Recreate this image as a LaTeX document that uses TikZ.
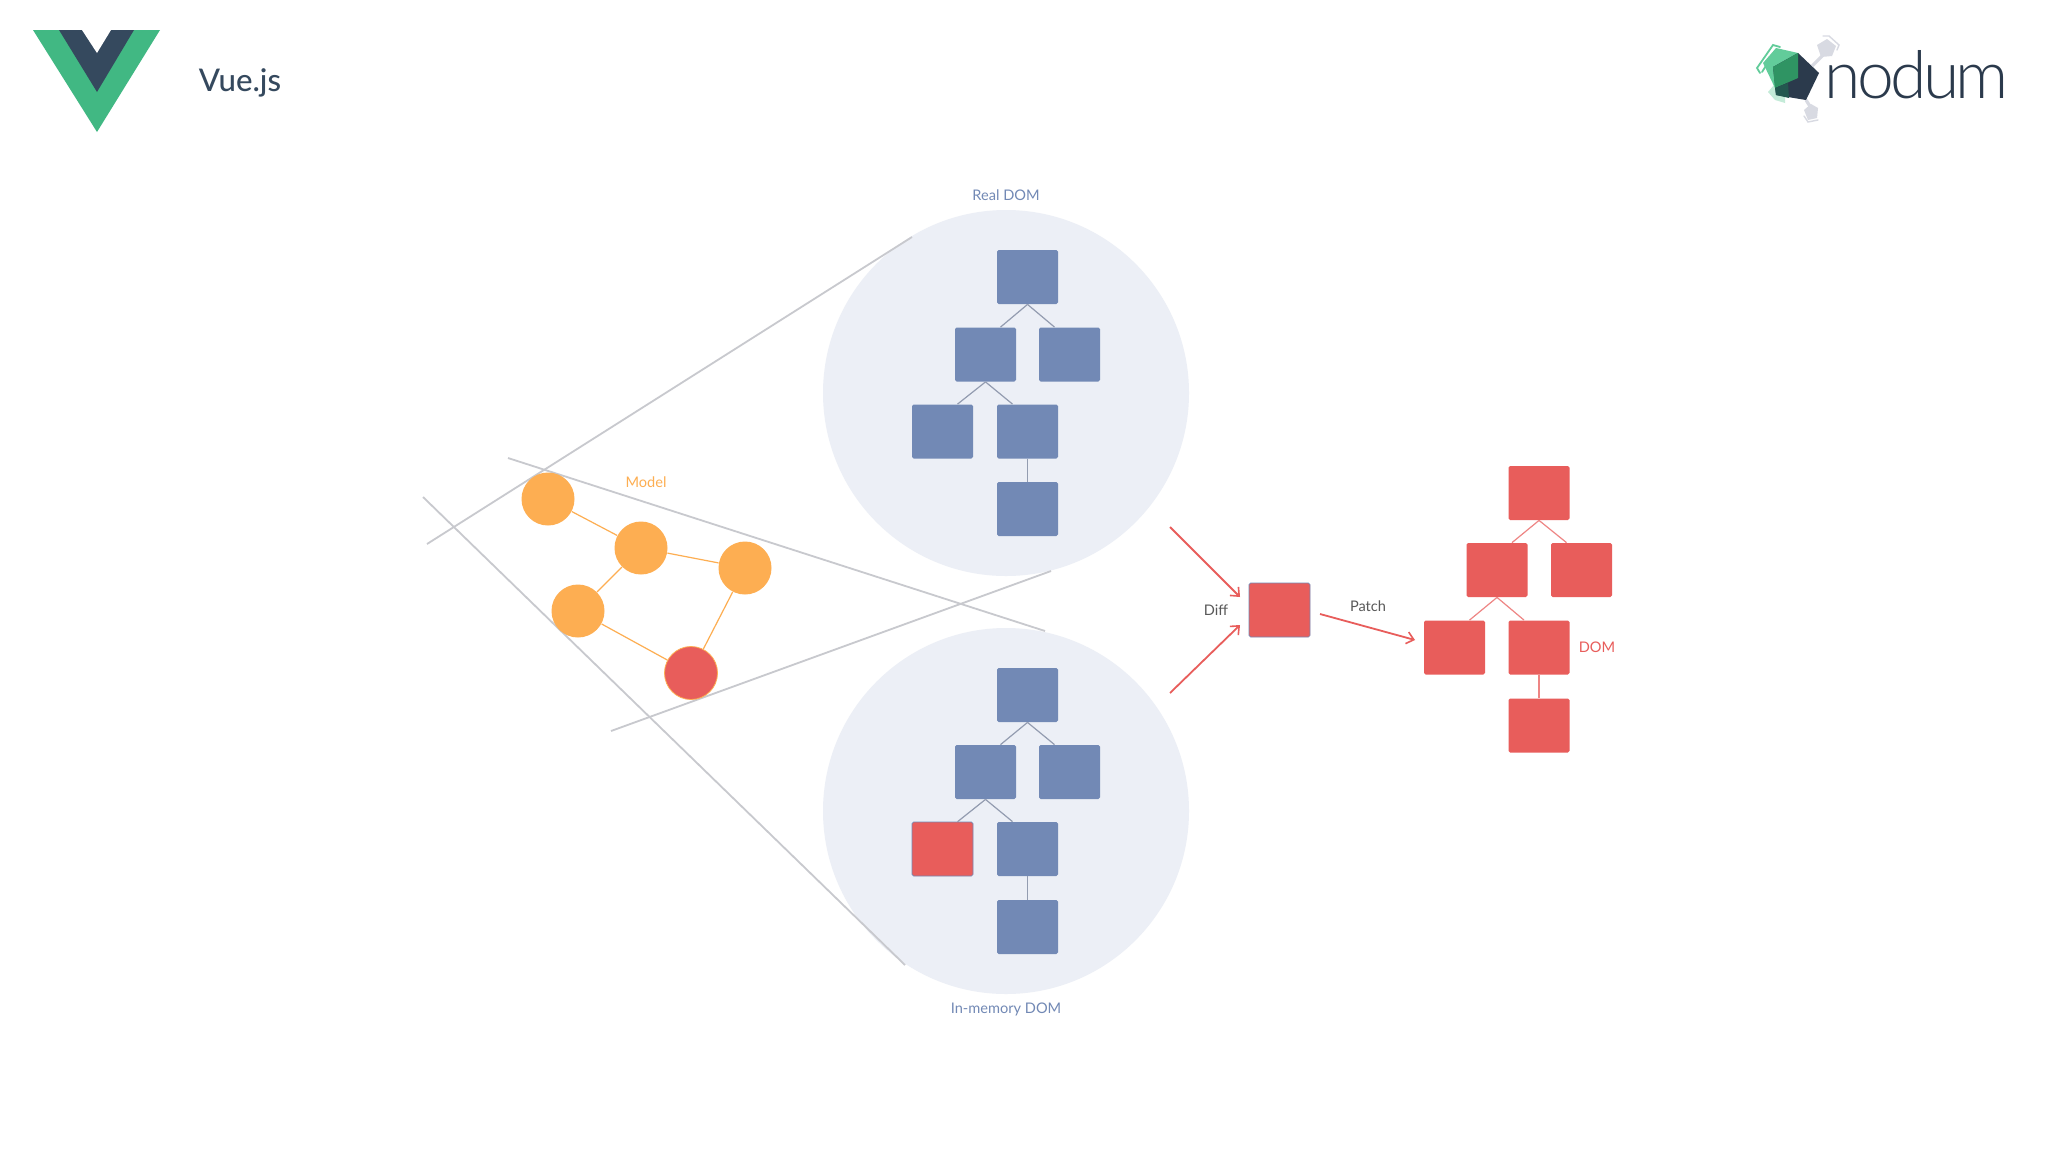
\documentclass[tikz,border=0pt]{standalone}
\usepackage{fontspec}
\setmainfont{Lato}
\newfontfamily\nodfont[LetterSpace=-5.5]{Lato Light}
\newfontfamily\vuefont{Lato Medium}
\usetikzlibrary{arrows.meta,calc}
\definecolor{bluebox}{HTML}{7289B5}
\definecolor{redbox}{HTML}{E85D5B}
\definecolor{disc}{HTML}{ECEFF6}
\definecolor{orangec}{HTML}{FDAE52}
\definecolor{grayl}{HTML}{C8C9CE}
\definecolor{vuegreen}{HTML}{41B883}
\definecolor{vuedark}{HTML}{35495E}
\definecolor{nodark}{HTML}{2B3A4C}
\definecolor{blueline}{HTML}{939CB0}
\definecolor{logogray}{HTML}{D8DAE2}
\definecolor{logogreen}{HTML}{62CC9A}
\definecolor{logopale}{HTML}{C4EBD8}
\definecolor{logomid}{HTML}{2F9463}
\definecolor{logoteal}{HTML}{23574F}
\tikzset{
  x=0.5pt,y=-0.5pt,
  domnode/.style={rectangle,rounded corners=0.8pt,minimum width=30.5pt,minimum height=27pt,inner sep=0pt,fill=#1},
  modelnode/.style={circle,minimum size=26.5pt,inner sep=0pt,fill=#1},
  bluelink/.style={draw=blueline,line width=0.6pt},
  redlink/.style={draw=redbox!75!white,line width=0.6pt},
  orlink/.style={draw=orangec,line width=0.6pt},
  frustum/.style={draw=grayl,line width=0.9pt},
  flow/.style={draw=redbox,line width=0.9pt,-{Straight Barb[length=3.5pt,width=6pt,line width=0.8pt]}},
  lab/.style={inner sep=0pt,font=\fontsize{7.3pt}{9pt}\selectfont,text=#1},
}
\begin{document}
\begin{tikzpicture}
\useasboundingbox (0,0) rectangle (2048,1152);
\fill[white] (0,0) rectangle (2048,1152);
% Vue logo
\fill[vuegreen] (33,30) -- (160,30) -- (97,132) -- cycle;
\fill[vuedark] (59,30) -- (134,30) -- (97,92) -- cycle;
\fill[white] (82,30) -- (111,30) -- (97,53) -- cycle;
\node[inner sep=0pt,text=vuedark,font=\fontsize{15.6pt}{18pt}\selectfont\vuefont] (vue) at (240,83) {Vue.js};
% nodum logo
\draw[logogray,line width=1.6pt] (1812,66) -- (1825,53);
\draw[logogray,line width=1.6pt] (1806,100) -- (1811,108);
\fill[logogray] (1817,45) -- (1827,39) -- (1836,46) -- (1832,56) -- (1821,57) -- cycle;
\draw[logogray,line width=0.7pt,line cap=round] (1823,36) -- (1829,36) -- (1839,45) -- (1837,50);
\fill[logogray] (1804,110) -- (1811,104) -- (1818,108) -- (1817,118) -- (1808,120) -- cycle;
\draw[logogray,line width=0.7pt,line cap=round] (1804,116) -- (1808,122) -- (1818,120);
\fill[logopale] (1768,92) -- (1774,85) -- (1785,95) -- (1785,103) -- (1775,100) -- cycle;
\draw[logogreen,line width=0.9pt,line cap=round] (1760,73) -- (1757,68) -- (1773,45) -- (1780,47);
\draw[logogreen,line width=0.9pt,line cap=round] (1762,72) -- (1776,50);
\fill[logogreen] (1763,63) -- (1776,48) -- (1798,53) -- (1798,78) -- (1775,88) -- cycle;
\fill[nodark] (1798,53) -- (1819,73) -- (1806,100) -- (1776,95) -- (1773,67) -- cycle;
\fill[logomid] (1773,67) -- (1798,53) -- (1798,78) -- (1775,88) -- cycle;
\fill[logoteal] (1775,88) -- (1788,83) -- (1789,98) -- (1776,95) -- cycle;
\node[inner sep=0pt,text=nodark,anchor=base west,font=\fontsize{33pt}{36pt}\selectfont\nodfont] (nod) at (1824,98) {nodum};
% discs
\coordinate (realc) at (1006,393);
\coordinate (memc) at (1006,811);
\fill[disc] (realc) circle[radius=183];
\fill[disc] (memc) circle[radius=183];
% frustum lines
\coordinate (fa1) at (427,544); \coordinate (fa2) at (912,237);
\coordinate (fb1) at (508,458); \coordinate (fb2) at (1045,631);
\coordinate (fc1) at (423,497); \coordinate (fc2) at (905,965);
\coordinate (fd1) at (611,731); \coordinate (fd2) at (1051,571);
\draw[frustum] (fa1) -- (fa2);
\draw[frustum] (fb1) -- (fb2);
\draw[frustum] (fc1) -- (fc2);
\draw[frustum] (fd1) -- (fd2);
% model
\node[modelnode=orangec] (m1) at (548,499) {};
\node[modelnode=orangec] (m2) at (641,548) {};
\node[modelnode=orangec] (m3) at (745,568) {};
\node[modelnode=orangec] (m4) at (578,611) {};
\node[modelnode=redbox,draw=orangec,line width=0.4pt] (m5) at (691,673) {};
\draw[orlink] (m1) -- (m2);
\draw[orlink] (m2) -- (m3);
\draw[orlink] (m2) -- (m4);
\draw[orlink] (m4) -- (m5);
\draw[orlink] (m3) -- (m5);
\node[lab=orangec] (lmodel) at (646,482) {Model};
% Real DOM tree
\node[domnode=bluebox] (r1) at (1027.5,277) {};
\node[domnode=bluebox] (r2) at (985.5,354.5) {};
\node[domnode=bluebox] (r3) at (1069.5,354.5) {};
\node[domnode=bluebox] (r4) at (942.5,431.5) {};
\node[domnode=bluebox] (r5) at (1027.5,431.5) {};
\node[domnode=bluebox] (r6) at (1027.5,509) {};
\draw[bluelink] (r1.south) -- ([xshift=7.5pt]r2.north);
\draw[bluelink] (r1.south) -- ([xshift=-7.5pt]r3.north);
\draw[bluelink] (r2.south) -- ([xshift=7.5pt]r4.north);
\draw[bluelink] (r2.south) -- ([xshift=-7.5pt]r5.north);
\draw[bluelink] (r5.south) -- (r6.north);
\node[lab=bluebox] (lreal) at (1006,195) {Real DOM};
% In-memory tree
\node[domnode=bluebox] (v1) at (1027.5,695) {};
\node[domnode=bluebox] (v2) at (985.5,772) {};
\node[domnode=bluebox] (v3) at (1069.5,772) {};
\node[domnode=redbox,draw=bluebox,line width=0.3pt] (v4) at (942.5,849) {};
\node[domnode=bluebox] (v5) at (1027.5,849) {};
\node[domnode=bluebox] (v6) at (1027.5,927) {};
\draw[bluelink] (v1.south) -- ([xshift=7.5pt]v2.north);
\draw[bluelink] (v1.south) -- ([xshift=-7.5pt]v3.north);
\draw[bluelink] (v2.south) -- ([xshift=7.5pt]v4.north);
\draw[bluelink] (v2.south) -- ([xshift=-7.5pt]v5.north);
\draw[bluelink] (v5.south) -- (v6.north);
\node[lab=bluebox] (lmem) at (1006,1009.5) {In-memory DOM};
% diff
\node[domnode=redbox,draw=bluebox,line width=0.3pt] (diff) at (1279.5,610) {};
\coordinate (da) at (1170,527); \coordinate (db) at (1240,597);
\coordinate (dc) at (1170,693); \coordinate (dd) at (1240,625);
\coordinate (pa) at (1320,614); \coordinate (pb) at (1415,640);
\draw[flow] (da) -- (db);
\draw[flow] (dc) -- (dd);
\draw[flow] (pa) -- (pb);
\node[lab=black!65] (ldiff) at (1216,610.5) {Diff};
\node[lab=black!65] (lpatch) at (1368,606.5) {Patch};
% DOM tree
\node[domnode=redbox] (d1) at (1539,493) {};
\node[domnode=redbox] (d2) at (1497,570) {};
\node[domnode=redbox] (d3) at (1581.5,570) {};
\node[domnode=redbox] (d4) at (1454.5,647.5) {};
\node[domnode=redbox] (d5) at (1539,647.5) {};
\node[domnode=redbox] (d6) at (1539,725.5) {};
\draw[redlink] (d1.south) -- ([xshift=7.5pt]d2.north);
\draw[redlink] (d1.south) -- ([xshift=-7.5pt]d3.north);
\draw[redlink] (d2.south) -- ([xshift=7.5pt]d4.north);
\draw[redlink] (d2.south) -- ([xshift=-7.5pt]d5.north);
\draw[redlink] (d5.south) -- (d6.north);
\node[lab=redbox] (ldom) at (1597,647) {DOM};
\end{tikzpicture}
\end{document}
